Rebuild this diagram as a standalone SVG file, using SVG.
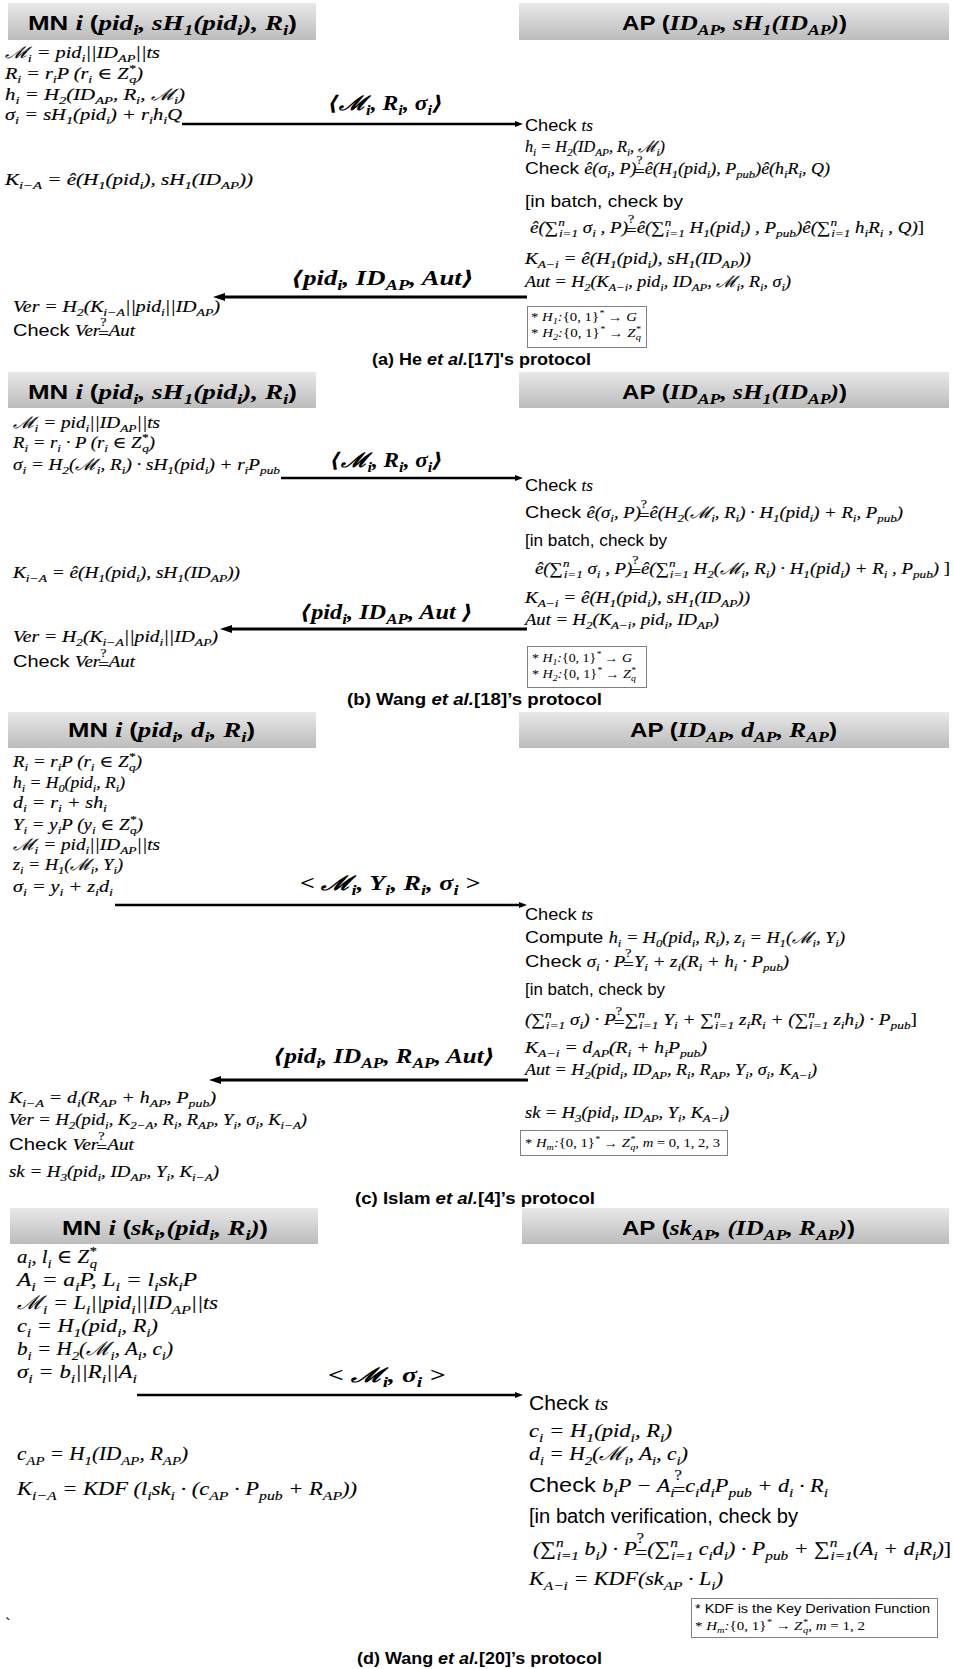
<svg xmlns="http://www.w3.org/2000/svg" width="953" height="1669" viewBox="0 0 953 1669">
<defs>
<linearGradient id="hdr" x1="0" y1="0" x2="0" y2="1"><stop offset="0" stop-color="#e8e8e8"/><stop offset="1" stop-color="#bcbcbc"/></linearGradient>
<marker id="af" viewBox="0 0 8 6" refX="1" refY="3" markerWidth="8" markerHeight="6" markerUnits="userSpaceOnUse" orient="auto"><path d="M0,0 L8,3 L0,6 z" fill="#000"/></marker>
<marker id="ab" viewBox="0 0 12 8" refX="1" refY="4" markerWidth="12" markerHeight="8" markerUnits="userSpaceOnUse" orient="auto"><path d="M0,0 L12,4 L0,8 z" fill="#000"/></marker>
<style>
text{fill:#000}
.m{font-family:"Liberation Serif","DejaVu Serif",serif;font-style:italic;font-size:16px;stroke:#000;stroke-width:0.15px}
.m19{font-family:"Liberation Serif","DejaVu Serif",serif;font-style:italic;font-size:19px;stroke:#000;stroke-width:0.15px}
.sf{font-family:"Liberation Sans",Arial,sans-serif;font-size:17px}
.sf19{font-family:"Liberation Sans",Arial,sans-serif;font-size:19.5px}
.s{font-family:"Liberation Sans",Arial,sans-serif;font-style:normal;font-size:1.06em;stroke:none}
.b{font-size:0.7em;baseline-shift:-0.35em}
.p{font-size:0.7em;baseline-shift:0.6em}
.q{font-family:"Liberation Serif",serif;font-style:normal;font-size:0.75em;baseline-shift:0.85em}
.e{font-style:normal;baseline-shift:-0.2em}
.hs{font-family:"Liberation Sans",Arial,sans-serif;font-weight:bold;font-size:20px}
.hm{font-family:"Liberation Serif","DejaVu Serif",serif;font-weight:bold;font-style:italic;font-size:21px}
.lb{font-family:"Liberation Serif","DejaVu Serif",serif;font-weight:bold;font-style:italic;font-size:20px}
.cap{font-family:"Liberation Sans",Arial,sans-serif;font-weight:bold;font-size:17px}
.it{font-style:italic}
.bx{font-family:"Liberation Serif","DejaVu Serif",serif;font-style:italic;font-size:12px}
.bxs{font-family:"Liberation Sans",Arial,sans-serif;font-size:13px}
.up{font-style:normal}
.hdr{fill:url(#hdr)}
.note{fill:#fff;stroke:#808080;stroke-width:1}
.ln{stroke:#000;stroke-width:2.5;fill:none}
.lnb{stroke:#000;stroke-width:3;fill:none}
</style>
</defs>
<rect width="953" height="1669" fill="#fff"/>

<!-- (a) -->
<g id="a-mn">
<rect class="hdr" x="8" y="3" width="308" height="37"/>
<text x="28" y="30" textLength="269" lengthAdjust="spacingAndGlyphs"><tspan class="hs">MN </tspan><tspan class="hm">i </tspan><tspan class="hs">(</tspan><tspan class="hm">pid<tspan class="b">i</tspan>, sH<tspan class="b">1</tspan>(pid<tspan class="b">i</tspan>), R<tspan class="b">i</tspan></tspan><tspan class="hs">)</tspan></text>
<text class="m" x="5" y="58" textLength="155" lengthAdjust="spacingAndGlyphs">ℳ<tspan class="b">i</tspan> = pid<tspan class="b">i</tspan>||ID<tspan class="b">AP</tspan>||ts</text>
<text class="m" x="5" y="79" textLength="138" lengthAdjust="spacingAndGlyphs">R<tspan class="b">i</tspan> = r<tspan class="b">i</tspan>P (r<tspan class="b">i</tspan> ∈ Z<tspan class="p">*</tspan><tspan class="b" dx="-5">q</tspan>)</text>
<text class="m" x="5" y="100" textLength="180" lengthAdjust="spacingAndGlyphs">h<tspan class="b">i</tspan> = H<tspan class="b">2</tspan>(ID<tspan class="b">AP</tspan>, R<tspan class="b">i</tspan>, ℳ<tspan class="b">i</tspan>)</text>
<text class="m" x="5" y="120" textLength="177" lengthAdjust="spacingAndGlyphs">σ<tspan class="b">i</tspan> = sH<tspan class="b">1</tspan>(pid<tspan class="b">i</tspan>) + r<tspan class="b">i</tspan>h<tspan class="b">i</tspan>Q</text>
<text class="m" x="5" y="185" textLength="248" lengthAdjust="spacingAndGlyphs">K<tspan class="b">i−A</tspan> = ê(H<tspan class="b">1</tspan>(pid<tspan class="b">i</tspan>), sH<tspan class="b">1</tspan>(ID<tspan class="b">AP</tspan>))</text>
<text class="m" x="13" y="312" textLength="207" lengthAdjust="spacingAndGlyphs">Ver = H<tspan class="b">2</tspan>(K<tspan class="b">i−A</tspan>||pid<tspan class="b">i</tspan>||ID<tspan class="b">AP</tspan>)</text>
<text class="m" x="13" y="336" textLength="122" lengthAdjust="spacingAndGlyphs"><tspan class="s">Check </tspan>Ver<tspan class="q">?</tspan><tspan class="e" dx="-7">=</tspan>Aut</text>
</g>
<g id="a-ap">
<rect class="hdr" x="519" y="3" width="430" height="37"/>
<text x="622" y="30" textLength="225" lengthAdjust="spacingAndGlyphs"><tspan class="hs">AP (</tspan><tspan class="hm">ID<tspan class="b">AP</tspan>, sH<tspan class="b">1</tspan>(ID<tspan class="b">AP</tspan>)</tspan><tspan class="hs">)</tspan></text>
<text class="m" x="525" y="131" textLength="68" lengthAdjust="spacingAndGlyphs"><tspan class="s">Check </tspan>ts</text>
<text class="m" x="525" y="152" textLength="140" lengthAdjust="spacingAndGlyphs">h<tspan class="b">i</tspan> = H<tspan class="b">2</tspan>(ID<tspan class="b">AP</tspan>, R<tspan class="b">i</tspan>, ℳ<tspan class="b">i</tspan>)</text>
<text class="m" x="525" y="174" textLength="305" lengthAdjust="spacingAndGlyphs"><tspan class="s">Check </tspan>ê(σ<tspan class="b">i</tspan>, P)<tspan class="q">?</tspan><tspan class="e" dx="-7">=</tspan>ê(H<tspan class="b">1</tspan>(pid<tspan class="b">i</tspan>), P<tspan class="b">pub</tspan>)ê(h<tspan class="b">i</tspan>R<tspan class="b">i</tspan>, Q)</text>
<text class="sf" x="525" y="207" textLength="158" lengthAdjust="spacingAndGlyphs">[in batch, check by</text>
<text class="m" x="530" y="233" textLength="394" lengthAdjust="spacingAndGlyphs">ê(∑<tspan class="p">n</tspan><tspan class="b" dx="-5">i=1</tspan> σ<tspan class="b">i</tspan> , P)<tspan class="q">?</tspan><tspan class="e" dx="-7">=</tspan>ê(∑<tspan class="p">n</tspan><tspan class="b" dx="-5">i=1</tspan> H<tspan class="b">1</tspan>(pid<tspan class="b">i</tspan>) , P<tspan class="b">pub</tspan>)ê(∑<tspan class="p">n</tspan><tspan class="b" dx="-5">i=1</tspan> h<tspan class="b">i</tspan>R<tspan class="b">i</tspan> , Q)<tspan class="up">]</tspan></text>
<text class="m" x="525" y="264" textLength="226" lengthAdjust="spacingAndGlyphs">K<tspan class="b">A−i</tspan> = ê(H<tspan class="b">1</tspan>(pid<tspan class="b">i</tspan>), sH<tspan class="b">1</tspan>(ID<tspan class="b">AP</tspan>))</text>
<text class="m" x="525" y="287" textLength="266" lengthAdjust="spacingAndGlyphs">Aut = H<tspan class="b">2</tspan>(K<tspan class="b">A−i</tspan>, pid<tspan class="b">i</tspan>, ID<tspan class="b">AP</tspan>, ℳ<tspan class="b">i</tspan>, R<tspan class="b">i</tspan>, σ<tspan class="b">i</tspan>)</text>
</g>
<g id="a-note">
<rect class="note" x="527.5" y="306.5" width="119" height="41"/>
<text class="bx" x="531" y="321" textLength="106" lengthAdjust="spacingAndGlyphs"><tspan class="up">* </tspan>H<tspan class="b">1</tspan>:<tspan class="up">{0, 1}</tspan><tspan class="p">*</tspan> → G</text>
<text class="bx" x="531" y="337" textLength="110" lengthAdjust="spacingAndGlyphs"><tspan class="up">* </tspan>H<tspan class="b">2</tspan>:<tspan class="up">{0, 1}</tspan><tspan class="p">*</tspan> → Z<tspan class="p">*</tspan><tspan class="b" dx="-4">q</tspan></text>
</g>
<g id="a-caption">
<text class="cap" x="372" y="365" textLength="219" lengthAdjust="spacingAndGlyphs">(a) He <tspan class="it">et al.</tspan>[17]'s protocol</text>
</g>

<!-- (b) -->
<g id="b-mn">
<rect class="hdr" x="8" y="372" width="308" height="36"/>
<text x="28" y="399" textLength="269" lengthAdjust="spacingAndGlyphs"><tspan class="hs">MN </tspan><tspan class="hm">i </tspan><tspan class="hs">(</tspan><tspan class="hm">pid<tspan class="b">i</tspan>, sH<tspan class="b">1</tspan>(pid<tspan class="b">i</tspan>), R<tspan class="b">i</tspan></tspan><tspan class="hs">)</tspan></text>
<text class="m" x="13" y="428" textLength="147" lengthAdjust="spacingAndGlyphs">ℳ<tspan class="b">i</tspan> = pid<tspan class="b">i</tspan>||ID<tspan class="b">AP</tspan>||ts</text>
<text class="m" x="13" y="448" textLength="142" lengthAdjust="spacingAndGlyphs">R<tspan class="b">i</tspan> = r<tspan class="b">i</tspan> · P (r<tspan class="b">i</tspan> ∈ Z<tspan class="p">*</tspan><tspan class="b" dx="-5">q</tspan>)</text>
<text class="m" x="13" y="470" textLength="267" lengthAdjust="spacingAndGlyphs">σ<tspan class="b">i</tspan> = H<tspan class="b">2</tspan>(ℳ<tspan class="b">i</tspan>, R<tspan class="b">i</tspan>) · sH<tspan class="b">1</tspan>(pid<tspan class="b">i</tspan>) + r<tspan class="b">i</tspan>P<tspan class="b">pub</tspan></text>
<text class="m" x="13" y="578" textLength="227" lengthAdjust="spacingAndGlyphs">K<tspan class="b">i−A</tspan> = ê(H<tspan class="b">1</tspan>(pid<tspan class="b">i</tspan>), sH<tspan class="b">1</tspan>(ID<tspan class="b">AP</tspan>))</text>
<text class="m" x="13" y="642" textLength="205" lengthAdjust="spacingAndGlyphs">Ver = H<tspan class="b">2</tspan>(K<tspan class="b">i−A</tspan>||pid<tspan class="b">i</tspan>||ID<tspan class="b">AP</tspan>)</text>
<text class="m" x="13" y="667" textLength="122" lengthAdjust="spacingAndGlyphs"><tspan class="s">Check </tspan>Ver<tspan class="q">?</tspan><tspan class="e" dx="-7">=</tspan>Aut</text>
</g>
<g id="b-ap">
<rect class="hdr" x="519" y="372" width="430" height="36"/>
<text x="622" y="399" textLength="225" lengthAdjust="spacingAndGlyphs"><tspan class="hs">AP (</tspan><tspan class="hm">ID<tspan class="b">AP</tspan>, sH<tspan class="b">1</tspan>(ID<tspan class="b">AP</tspan>)</tspan><tspan class="hs">)</tspan></text>
<text class="m" x="525" y="491" textLength="68" lengthAdjust="spacingAndGlyphs"><tspan class="s">Check </tspan>ts</text>
<text class="m" x="525" y="518" textLength="378" lengthAdjust="spacingAndGlyphs"><tspan class="s">Check </tspan>ê(σ<tspan class="b">i</tspan>, P)<tspan class="q">?</tspan><tspan class="e" dx="-7">=</tspan>ê(H<tspan class="b">2</tspan>(ℳ<tspan class="b">i</tspan>, R<tspan class="b">i</tspan>) · H<tspan class="b">1</tspan>(pid<tspan class="b">i</tspan>) + R<tspan class="b">i</tspan>, P<tspan class="b">pub</tspan>)</text>
<text class="sf" x="525" y="546" textLength="142" lengthAdjust="spacingAndGlyphs">[in batch, check by</text>
<text class="m" x="535" y="574" textLength="415" lengthAdjust="spacingAndGlyphs">ê(∑<tspan class="p">n</tspan><tspan class="b" dx="-5">i=1</tspan> σ<tspan class="b">i</tspan> , P)<tspan class="q">?</tspan><tspan class="e" dx="-7">=</tspan>ê(∑<tspan class="p">n</tspan><tspan class="b" dx="-5">i=1</tspan> H<tspan class="b">2</tspan>(ℳ<tspan class="b">i</tspan>, R<tspan class="b">i</tspan>) · H<tspan class="b">1</tspan>(pid<tspan class="b">i</tspan>) + R<tspan class="b">i</tspan> , P<tspan class="b">pub</tspan>) <tspan class="up">]</tspan></text>
<text class="m" x="525" y="603" textLength="225" lengthAdjust="spacingAndGlyphs">K<tspan class="b">A−i</tspan> = ê(H<tspan class="b">1</tspan>(pid<tspan class="b">i</tspan>), sH<tspan class="b">1</tspan>(ID<tspan class="b">AP</tspan>))</text>
<text class="m" x="525" y="625" textLength="194" lengthAdjust="spacingAndGlyphs">Aut = H<tspan class="b">2</tspan>(K<tspan class="b">A−i</tspan>, pid<tspan class="b">i</tspan>, ID<tspan class="b">AP</tspan>)</text>
</g>
<g id="b-note">
<rect class="note" x="527.5" y="646.5" width="119" height="41"/>
<text class="bx" x="532" y="662" textLength="100" lengthAdjust="spacingAndGlyphs"><tspan class="up">* </tspan>H<tspan class="b">1</tspan>:<tspan class="up">{0, 1}</tspan><tspan class="p">*</tspan> → G</text>
<text class="bx" x="532" y="678" textLength="104" lengthAdjust="spacingAndGlyphs"><tspan class="up">* </tspan>H<tspan class="b">2</tspan>:<tspan class="up">{0, 1}</tspan><tspan class="p">*</tspan> → Z<tspan class="p">*</tspan><tspan class="b" dx="-4">q</tspan></text>
</g>
<g id="b-caption">
<text class="cap" x="347" y="705" textLength="255" lengthAdjust="spacingAndGlyphs">(b) Wang <tspan class="it">et al.</tspan>[18]’s protocol</text>
</g>

<!-- (c) -->
<g id="c-mn">
<rect class="hdr" x="8" y="712" width="308" height="36"/>
<text x="68" y="737" textLength="187" lengthAdjust="spacingAndGlyphs"><tspan class="hs">MN </tspan><tspan class="hm">i </tspan><tspan class="hs">(</tspan><tspan class="hm">pid<tspan class="b">i</tspan>, d<tspan class="b">i</tspan>, R<tspan class="b">i</tspan></tspan><tspan class="hs">)</tspan></text>
<text class="m" x="13" y="767" textLength="129" lengthAdjust="spacingAndGlyphs">R<tspan class="b">i</tspan> = r<tspan class="b">i</tspan>P (r<tspan class="b">i</tspan> ∈ Z<tspan class="p">*</tspan><tspan class="b" dx="-5">q</tspan>)</text>
<text class="m" x="13" y="788" textLength="112" lengthAdjust="spacingAndGlyphs">h<tspan class="b">i</tspan> = H<tspan class="b">0</tspan>(pid<tspan class="b">i</tspan>, R<tspan class="b">i</tspan>)</text>
<text class="m" x="13" y="808" textLength="94" lengthAdjust="spacingAndGlyphs">d<tspan class="b">i</tspan> = r<tspan class="b">i</tspan> + sh<tspan class="b">i</tspan></text>
<text class="m" x="13" y="830" textLength="130" lengthAdjust="spacingAndGlyphs">Y<tspan class="b">i</tspan> = y<tspan class="b">i</tspan>P (y<tspan class="b">i</tspan> ∈ Z<tspan class="p">*</tspan><tspan class="b" dx="-5">q</tspan>)</text>
<text class="m" x="13" y="850" textLength="147" lengthAdjust="spacingAndGlyphs">ℳ<tspan class="b">i</tspan> = pid<tspan class="b">i</tspan>||ID<tspan class="b">AP</tspan>||ts</text>
<text class="m" x="13" y="870" textLength="110" lengthAdjust="spacingAndGlyphs">z<tspan class="b">i</tspan> = H<tspan class="b">1</tspan>(ℳ<tspan class="b">i</tspan>, Y<tspan class="b">i</tspan>)</text>
<text class="m" x="13" y="892" textLength="100" lengthAdjust="spacingAndGlyphs">σ<tspan class="b">i</tspan> = y<tspan class="b">i</tspan> + z<tspan class="b">i</tspan>d<tspan class="b">i</tspan></text>
<text class="m" x="9" y="1103" textLength="207" lengthAdjust="spacingAndGlyphs">K<tspan class="b">i−A</tspan> = d<tspan class="b">i</tspan>(R<tspan class="b">AP</tspan> + h<tspan class="b">AP</tspan>, P<tspan class="b">pub</tspan>)</text>
<text class="m" x="9" y="1125" textLength="298" lengthAdjust="spacingAndGlyphs">Ver = H<tspan class="b">2</tspan>(pid<tspan class="b">i</tspan>, K<tspan class="b">2−A</tspan>, R<tspan class="b">i</tspan>, R<tspan class="b">AP</tspan>, Y<tspan class="b">i</tspan>, σ<tspan class="b">i</tspan>, K<tspan class="b">i−A</tspan>)</text>
<text class="m" x="9" y="1150" textLength="125" lengthAdjust="spacingAndGlyphs"><tspan class="s">Check </tspan>Ver<tspan class="q">?</tspan><tspan class="e" dx="-7">=</tspan>Aut</text>
<text class="m" x="9" y="1177" textLength="210" lengthAdjust="spacingAndGlyphs">sk = H<tspan class="b">3</tspan>(pid<tspan class="b">i</tspan>, ID<tspan class="b">AP</tspan>, Y<tspan class="b">i</tspan>, K<tspan class="b">i−A</tspan>)</text>
</g>
<g id="c-ap">
<rect class="hdr" x="519" y="712" width="430" height="36"/>
<text x="630" y="737" textLength="207" lengthAdjust="spacingAndGlyphs"><tspan class="hs">AP (</tspan><tspan class="hm">ID<tspan class="b">AP</tspan>, d<tspan class="b">AP</tspan>, R<tspan class="b">AP</tspan></tspan><tspan class="hs">)</tspan></text>
<text class="m" x="525" y="920" textLength="68" lengthAdjust="spacingAndGlyphs"><tspan class="s">Check </tspan>ts</text>
<text class="m" x="525" y="943" textLength="320" lengthAdjust="spacingAndGlyphs"><tspan class="s">Compute </tspan>h<tspan class="b">i</tspan> = H<tspan class="b">0</tspan>(pid<tspan class="b">i</tspan>, R<tspan class="b">i</tspan>), z<tspan class="b">i</tspan> = H<tspan class="b">1</tspan>(ℳ<tspan class="b">i</tspan>, Y<tspan class="b">i</tspan>)</text>
<text class="m" x="525" y="967" textLength="264" lengthAdjust="spacingAndGlyphs"><tspan class="s">Check </tspan>σ<tspan class="b">i</tspan> · P<tspan class="q">?</tspan><tspan class="e" dx="-7">=</tspan>Y<tspan class="b">i</tspan> + z<tspan class="b">i</tspan>(R<tspan class="b">i</tspan> + h<tspan class="b">i</tspan> · P<tspan class="b">pub</tspan>)</text>
<text class="sf" x="525" y="995" textLength="140" lengthAdjust="spacingAndGlyphs">[in batch, check by</text>
<text class="m" x="525" y="1025" textLength="392" lengthAdjust="spacingAndGlyphs">(∑<tspan class="p">n</tspan><tspan class="b" dx="-5">i=1</tspan> σ<tspan class="b">i</tspan>) · P<tspan class="q">?</tspan><tspan class="e" dx="-7">=</tspan>∑<tspan class="p">n</tspan><tspan class="b" dx="-5">i=1</tspan> Y<tspan class="b">i</tspan> + ∑<tspan class="p">n</tspan><tspan class="b" dx="-5">i=1</tspan> z<tspan class="b">i</tspan>R<tspan class="b">i</tspan> + (∑<tspan class="p">n</tspan><tspan class="b" dx="-5">i=1</tspan> z<tspan class="b">i</tspan>h<tspan class="b">i</tspan>) · P<tspan class="b">pub</tspan><tspan class="up">]</tspan></text>
<text class="m" x="525" y="1053" textLength="182" lengthAdjust="spacingAndGlyphs">K<tspan class="b">A−i</tspan> = d<tspan class="b">AP</tspan>(R<tspan class="b">i</tspan> + h<tspan class="b">i</tspan>P<tspan class="b">pub</tspan>)</text>
<text class="m" x="525" y="1075" textLength="292" lengthAdjust="spacingAndGlyphs">Aut = H<tspan class="b">2</tspan>(pid<tspan class="b">i</tspan>, ID<tspan class="b">AP</tspan>, R<tspan class="b">i</tspan>, R<tspan class="b">AP</tspan>, Y<tspan class="b">i</tspan>, σ<tspan class="b">i</tspan>, K<tspan class="b">A−i</tspan>)</text>
<text class="m" x="525" y="1118" textLength="204" lengthAdjust="spacingAndGlyphs">sk = H<tspan class="b">3</tspan>(pid<tspan class="b">i</tspan>, ID<tspan class="b">AP</tspan>, Y<tspan class="b">i</tspan>, K<tspan class="b">A−i</tspan>)</text>
</g>
<g id="c-note">
<rect class="note" x="520.5" y="1130.5" width="207" height="25"/>
<text class="bx" x="525" y="1147" textLength="195" lengthAdjust="spacingAndGlyphs"><tspan class="up">* </tspan>H<tspan class="b">m</tspan>:<tspan class="up">{0, 1}</tspan><tspan class="p">*</tspan> → Z<tspan class="p">*</tspan><tspan class="b" dx="-4">q</tspan>, m <tspan class="up">= 0, 1, 2, 3</tspan></text>
</g>
<g id="c-caption">
<text class="cap" x="355" y="1204" textLength="240" lengthAdjust="spacingAndGlyphs">(c) Islam <tspan class="it">et al.</tspan>[4]’s protocol</text>
</g>

<!-- (d) -->
<g id="d-mn">
<rect class="hdr" x="10" y="1208" width="308" height="36"/>
<text x="62" y="1235" textLength="206" lengthAdjust="spacingAndGlyphs"><tspan class="hs">MN </tspan><tspan class="hm">i </tspan><tspan class="hs">(</tspan><tspan class="hm">sk<tspan class="b">i</tspan>,(pid<tspan class="b">i</tspan>, R<tspan class="b">i</tspan>)</tspan><tspan class="hs">)</tspan></text>
<text class="m19" x="17" y="1263" textLength="80" lengthAdjust="spacingAndGlyphs">a<tspan class="b">i</tspan>, l<tspan class="b">i</tspan> ∈ Z<tspan class="p">*</tspan><tspan class="b" dx="-6">q</tspan></text>
<text class="m19" x="17" y="1286" textLength="180" lengthAdjust="spacingAndGlyphs">A<tspan class="b">i</tspan> = a<tspan class="b">i</tspan>P, L<tspan class="b">i</tspan> = l<tspan class="b">i</tspan>sk<tspan class="b">i</tspan>P</text>
<text class="m19" x="17" y="1309" textLength="201" lengthAdjust="spacingAndGlyphs">ℳ<tspan class="b">i</tspan> = L<tspan class="b">i</tspan>||pid<tspan class="b">i</tspan>||ID<tspan class="b">AP</tspan>||ts</text>
<text class="m19" x="17" y="1332" textLength="141" lengthAdjust="spacingAndGlyphs">c<tspan class="b">i</tspan> = H<tspan class="b">1</tspan>(pid<tspan class="b">i</tspan>, R<tspan class="b">i</tspan>)</text>
<text class="m19" x="17" y="1355" textLength="156" lengthAdjust="spacingAndGlyphs">b<tspan class="b">i</tspan> = H<tspan class="b">2</tspan>(ℳ<tspan class="b">i</tspan>, A<tspan class="b">i</tspan>, c<tspan class="b">i</tspan>)</text>
<text class="m19" x="17" y="1378" textLength="120" lengthAdjust="spacingAndGlyphs">σ<tspan class="b">i</tspan> = b<tspan class="b">i</tspan>||R<tspan class="b">i</tspan>||A<tspan class="b">i</tspan></text>
<text class="m19" x="17" y="1460" textLength="171" lengthAdjust="spacingAndGlyphs">c<tspan class="b">AP</tspan> = H<tspan class="b">1</tspan>(ID<tspan class="b">AP</tspan>, R<tspan class="b">AP</tspan>)</text>
<text class="m19" x="17" y="1495" textLength="340" lengthAdjust="spacingAndGlyphs">K<tspan class="b">i−A</tspan> = KDF (l<tspan class="b">i</tspan>sk<tspan class="b">i</tspan> · (c<tspan class="b">AP</tspan> · P<tspan class="b">pub</tspan> + R<tspan class="b">AP</tspan>))</text>
<text class="sf" x="5" y="1630">`</text>
</g>
<g id="d-ap">
<rect class="hdr" x="522" y="1208" width="427" height="36"/>
<text x="622" y="1235" textLength="233" lengthAdjust="spacingAndGlyphs"><tspan class="hs">AP (</tspan><tspan class="hm">sk<tspan class="b">AP</tspan>, (ID<tspan class="b">AP</tspan>, R<tspan class="b">AP</tspan>)</tspan><tspan class="hs">)</tspan></text>
<text class="m19" x="529" y="1410" textLength="79" lengthAdjust="spacingAndGlyphs"><tspan class="s">Check </tspan>ts</text>
<text class="m19" x="529" y="1437" textLength="143" lengthAdjust="spacingAndGlyphs">c<tspan class="b">i</tspan> = H<tspan class="b">1</tspan>(pid<tspan class="b">i</tspan>, R<tspan class="b">i</tspan>)</text>
<text class="m19" x="529" y="1460" textLength="159" lengthAdjust="spacingAndGlyphs">d<tspan class="b">i</tspan> = H<tspan class="b">2</tspan>(ℳ<tspan class="b">i</tspan>, A<tspan class="b">i</tspan>, c<tspan class="b">i</tspan>)</text>
<text class="m19" x="529" y="1492" textLength="299" lengthAdjust="spacingAndGlyphs"><tspan class="s">Check </tspan>b<tspan class="b">i</tspan>P − A<tspan class="b">i</tspan><tspan class="q">?</tspan><tspan class="e" dx="-8">=</tspan>c<tspan class="b">i</tspan>d<tspan class="b">i</tspan>P<tspan class="b">pub</tspan> + d<tspan class="b">i</tspan> · R<tspan class="b">i</tspan></text>
<text class="sf19" x="529" y="1523" textLength="269" lengthAdjust="spacingAndGlyphs">[in batch verification, check by</text>
<text class="m19" x="533" y="1555" textLength="418" lengthAdjust="spacingAndGlyphs">(∑<tspan class="p">n</tspan><tspan class="b" dx="-6">i=1</tspan> b<tspan class="b">i</tspan>) · P<tspan class="q">?</tspan><tspan class="e" dx="-8">=</tspan>(∑<tspan class="p">n</tspan><tspan class="b" dx="-6">i=1</tspan> c<tspan class="b">i</tspan>d<tspan class="b">i</tspan>) · P<tspan class="b">pub</tspan> + ∑<tspan class="p">n</tspan><tspan class="b" dx="-6">i=1</tspan>(A<tspan class="b">i</tspan> + d<tspan class="b">i</tspan>R<tspan class="b">i</tspan>)<tspan class="up">]</tspan></text>
<text class="m19" x="529" y="1585" textLength="194" lengthAdjust="spacingAndGlyphs">K<tspan class="b">A−i</tspan> = KDF(sk<tspan class="b">AP</tspan> · L<tspan class="b">i</tspan>)</text>
</g>
<g id="d-note">
<rect class="note" x="691.5" y="1598.5" width="246" height="39"/>
<text class="bxs" x="695" y="1613" textLength="235" lengthAdjust="spacingAndGlyphs">* KDF is the Key Derivation Function</text>
<text class="bx" x="695" y="1630" textLength="170" lengthAdjust="spacingAndGlyphs" style="font-size:13px"><tspan class="up">* </tspan>H<tspan class="b">m</tspan>:<tspan class="up">{0, 1}</tspan><tspan class="p">*</tspan> → Z<tspan class="p">*</tspan><tspan class="b" dx="-4">q</tspan>, m <tspan class="up">= 1, 2</tspan></text>
</g>
<g id="d-caption">
<text class="cap" x="357" y="1664" textLength="245" lengthAdjust="spacingAndGlyphs">(d) Wang <tspan class="it">et al.</tspan>[20]’s protocol</text>
</g>

<!-- message arrows and their labels -->
<g id="connectors">
<line class="ln" x1="182" y1="124" x2="516" y2="124" marker-end="url(#af)"/>
<text class="lb" x="328" y="110" textLength="115" lengthAdjust="spacingAndGlyphs">⟨ℳ<tspan class="b">i</tspan>, R<tspan class="b">i</tspan>, σ<tspan class="b">i</tspan>⟩</text>
<line class="lnb" x1="527" y1="297" x2="224" y2="297" marker-end="url(#ab)"/>
<text class="lb" x="291" y="285" textLength="183" lengthAdjust="spacingAndGlyphs">⟨pid<tspan class="b">i</tspan>, ID<tspan class="b">AP</tspan>, Aut⟩</text>

<line class="ln" x1="281" y1="478" x2="516" y2="478" marker-end="url(#af)"/>
<text class="lb" x="330" y="467" textLength="113" lengthAdjust="spacingAndGlyphs">⟨ℳ<tspan class="b">i</tspan>, R<tspan class="b">i</tspan>, σ<tspan class="b">i</tspan>⟩</text>
<line class="lnb" x1="527" y1="629" x2="231" y2="629" marker-end="url(#ab)"/>
<text class="lb" x="300" y="619" textLength="173" lengthAdjust="spacingAndGlyphs">⟨pid<tspan class="b">i</tspan>, ID<tspan class="b">AP</tspan>, Aut ⟩</text>

<line class="ln" x1="115" y1="905" x2="520" y2="905" marker-end="url(#af)"/>
<text class="lb" x="300" y="890" textLength="180" lengthAdjust="spacingAndGlyphs">&lt; ℳ<tspan class="b">i</tspan>, Y<tspan class="b">i</tspan>, R<tspan class="b">i</tspan>, σ<tspan class="b">i</tspan> &gt;</text>
<line class="lnb" x1="528" y1="1080" x2="220" y2="1080" marker-end="url(#ab)"/>
<text class="lb" x="273" y="1063" textLength="222" lengthAdjust="spacingAndGlyphs">⟨pid<tspan class="b">i</tspan>, ID<tspan class="b">AP</tspan>, R<tspan class="b">AP</tspan>, Aut⟩</text>

<line class="ln" x1="137" y1="1395" x2="516" y2="1395" marker-end="url(#af)"/>
<text class="lb" x="328" y="1382" textLength="117" lengthAdjust="spacingAndGlyphs">&lt; ℳ<tspan class="b">i</tspan>, σ<tspan class="b">i</tspan> &gt;</text>
</g>
</svg>
